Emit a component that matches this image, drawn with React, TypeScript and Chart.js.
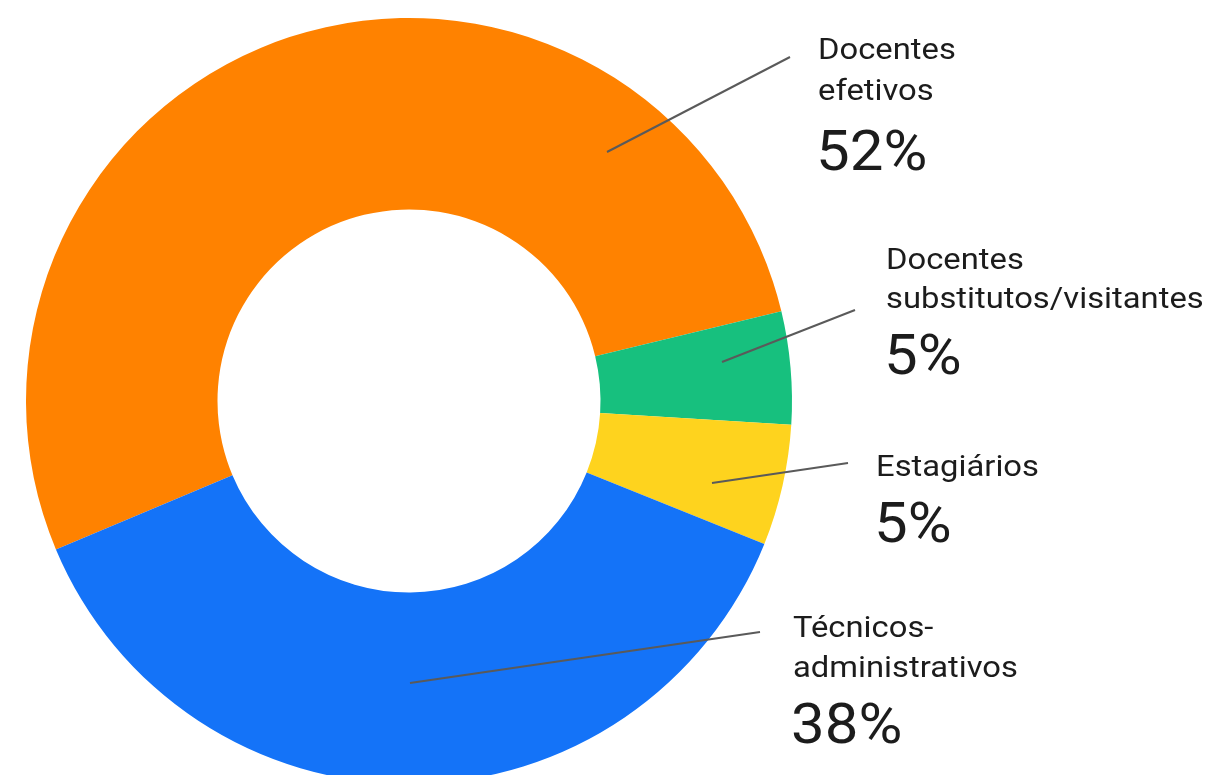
import React, { useEffect, useRef } from "react";
import { Chart, registerables } from "chart.js";

Chart.register(...registerables);

const categories = [
  "Docentes efetivos",
  "Docentes substitutos/visitantes",
  "Estagiários",
  "Técnicos-administrativos",
];
const labelLines = [
  ["Docentes", "efetivos"],
  ["Docentes", "substitutos/visitantes"],
  ["Estagiários"],
  ["Técnicos-", "administrativos"],
];
const shares = [52.6, 4.75, 5.1, 37.6];
const percentLabels = ["52%", "5%", "5%", "38%"];
const colors = ["#FF8200", "#17C07E", "#FED31E", "#1473F8"];

// label layout: leader line from (x1,y1) to (x2,y2); text at tx; baselines
const labelLayout = [
  { x1: 607, y1: 152, x2: 790, y2: 57, tx: 818, lines: [59, 100], pct: 170 },
  { x1: 722, y1: 362, x2: 855, y2: 310, tx: 886, lines: [269, 308], pct: 374 },
  { x1: 712, y1: 483, x2: 848, y2: 463, tx: 876, lines: [476], pct: 542 },
  { x1: 410, y1: 683, x2: 760, y2: 632, tx: 793, lines: [637, 677], pct: 743 },
];

function stretchedText(ctx: CanvasRenderingContext2D, text: string, x: number, y: number, sx: number) {
  ctx.save();
  ctx.translate(x, y);
  ctx.scale(sx, 1);
  ctx.fillText(text, 0, 0);
  ctx.restore();
}

const labelPlugin = {
  id: "leaderLabels",
  afterDraw(chart: any) {
    const ctx = chart.ctx as CanvasRenderingContext2D;
    ctx.save();
    labelLayout.forEach((l, i) => {
      ctx.strokeStyle = "#5a5a5a";
      ctx.lineWidth = 2;
      ctx.beginPath();
      ctx.moveTo(l.x1, l.y1);
      ctx.lineTo(l.x2, l.y2);
      ctx.stroke();
      ctx.fillStyle = "#1c1c1c";
      ctx.textAlign = "left";
      ctx.textBaseline = "alphabetic";
      ctx.font = "400 29px Roboto";
      labelLines[i].forEach((t, j) => stretchedText(ctx, t, l.tx, l.lines[j], 1.13));
      ctx.font = "400 55px Roboto";
      stretchedText(ctx, percentLabels[i], l.tx - 2, l.pct, 1.09);
    });
    ctx.restore();
  },
};

export default function App() {
  const ref = useRef<HTMLCanvasElement>(null);
  useEffect(() => {
    if (!ref.current) return;
    const chart = new Chart(ref.current, {
      type: "doughnut",
      data: {
        labels: categories,
        datasets: [
          {
            data: shares,
            backgroundColor: colors,
            borderWidth: 0,
            hoverOffset: 0,
          },
        ],
      },
      options: {
        animation: false,
        responsive: true,
        maintainAspectRatio: false,
        cutout: "50%",
        rotation: 247.2,
        layout: { padding: { left: 26, top: 18, right: 422, bottom: 16 } },
        plugins: {
          legend: { display: false },
          tooltip: { enabled: false },
        },
      },
      plugins: [labelPlugin],
    });
    return () => chart.destroy();
  }, []);
  return (
    <div
      style={{
        position: "fixed",
        left: 0,
        top: 0,
        width: 1214,
        height: 775,
        overflow: "hidden",
        background: "#fff",
      }}
    >
      <div style={{ position: "relative", width: 1214, height: 800 }}>
        <canvas ref={ref} />
      </div>
    </div>
  );
}
